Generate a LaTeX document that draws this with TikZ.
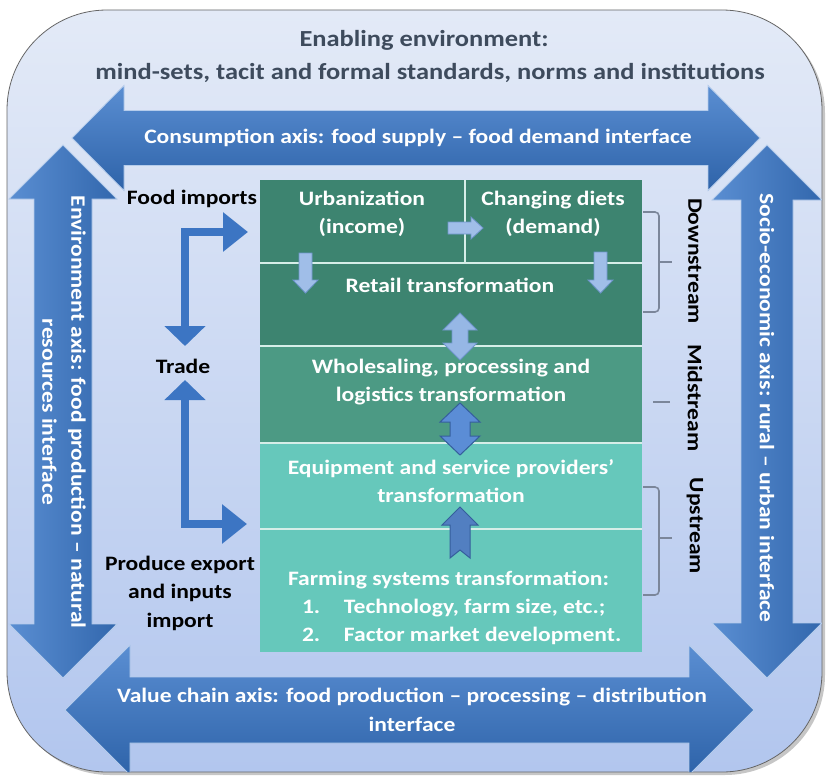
\documentclass[tikz,border=0pt]{standalone}
\usepackage{fontspec}
\setmainfont{Carlito}[FakeStretch=1.15]
\usetikzlibrary{arrows.meta}
\definecolor{bgtop}{HTML}{E3EAF7}
\definecolor{bgbot}{HTML}{B2C6EE}
\definecolor{axlight}{HTML}{5A8ED2}
\definecolor{axdark}{HTML}{2E63A9}
\definecolor{downc}{HTML}{3D8470}
\definecolor{midc}{HTML}{4C9A84}
\definecolor{upc}{HTML}{66C8BB}
\definecolor{titlec}{HTML}{3E4B5D}
\definecolor{brkc}{HTML}{7B869A}
\definecolor{lblue}{HTML}{A0BEE8}
\definecolor{lblueb}{HTML}{6F95CC}
\definecolor{mblue}{HTML}{5B8DD6}
\definecolor{mblueb}{HTML}{355E9C}
\definecolor{tradec}{HTML}{3C75C3}
\definecolor{divc}{HTML}{D6EEE8}
\begin{document}
\begin{tikzpicture}[x=1pt,y=-1pt,
  every node/.style={inner sep=0pt,outer sep=0pt},
  titletxt/.style={text=titlec,font=\fontsize{23}{32}\selectfont\bfseries,align=center},
  axistxt/.style={text=white,font=\fontsize{20.5}{29}\selectfont\bfseries,align=center},
  boxtxt/.style={text=white,font=\fontsize{20.5}{28}\selectfont\bfseries,align=center},
  sidetxt/.style={text=black,font=\fontsize{20.5}{28.5}\selectfont\bfseries,align=center},
  streamtxt/.style={text=black,font=\fontsize{20.5}{28}\selectfont\bfseries,rotate=-90},
  axisshape/.style={draw=white!55!axlight,line width=0.8pt},
  smallarrow/.style={fill=lblue,draw=lblueb,line width=0.8pt,line join=miter},
  midarrow/.style={fill=mblue,draw=mblueb,line width=1pt,line join=miter},
  brk/.style={draw=brkc,line width=1.6pt,rounded corners=4pt},
  divline/.style={draw=divc,line width=1.6pt},
  tradearrow/.style={draw=tradec,line width=8pt,line join=miter,
    {Triangle[width=40pt,length=20pt]}-{Triangle[width=38pt,length=25pt]}}
]
\useasboundingbox (0,0) rectangle (827,776);
% outer rounded panel with shadow
\fill[gray!45,rounded corners=100pt] (10,13) rectangle (825,775);
\shade[top color=bgtop,bottom color=bgbot,rounded corners=100pt] (7,10) rectangle (822,772);
\draw[gray!80!black,line width=0.8pt,rounded corners=100pt] (7,10) rectangle (822,772);

\begin{scope}
\clip[rounded corners=100pt] (7,10) rectangle (822,772);
% top arrow: consumption axis
\shade[top color=axlight,bottom color=axdark]
  (72,138) -- (124,85.5) -- (124,110.5) -- (708,110.5) -- (708,85.5) -- (760,138)
  -- (708,190.5) -- (708,165.5) -- (124,165.5) -- (124,190.5) -- cycle;
\draw[axisshape]
  (72,138) -- (124,85.5) -- (124,110.5) -- (708,110.5) -- (708,85.5) -- (760,138)
  -- (708,190.5) -- (708,165.5) -- (124,165.5) -- (124,190.5) -- cycle;
% left arrow: environment axis
\shade[left color=axlight,right color=axdark!90!axlight]
  (63,145) -- (117,199) -- (92,199) -- (92,624) -- (117,624) -- (63,678)
  -- (9,624) -- (34,624) -- (34,199) -- (9,199) -- cycle;
\draw[axisshape]
  (63,145) -- (117,199) -- (92,199) -- (92,624) -- (117,624) -- (63,678)
  -- (9,624) -- (34,624) -- (34,199) -- (9,199) -- cycle;
% right arrow: socio-economic axis
\shade[left color=axlight,right color=axdark!90!axlight]
  (767,145) -- (822,200) -- (793,200) -- (793,623) -- (822,623) -- (767,678)
  -- (712,623) -- (741,623) -- (741,200) -- (712,200) -- cycle;
\draw[axisshape]
  (767,145) -- (822,200) -- (793,200) -- (793,623) -- (822,623) -- (767,678)
  -- (712,623) -- (741,623) -- (741,200) -- (712,200) -- cycle;
% bottom arrow: value chain axis
\shade[top color=axlight,bottom color=axdark]
  (65,710) -- (130,645) -- (130,677) -- (689,677) -- (689,645) -- (754,710)
  -- (689,775) -- (689,743) -- (130,743) -- (130,775) -- cycle;
\draw[axisshape]
  (65,710) -- (130,645) -- (130,677) -- (689,677) -- (689,645) -- (754,710)
  -- (689,775) -- (689,743) -- (130,743) -- (130,775) -- cycle;
\end{scope}

% titles
\node[titletxt] (title1) at (424,40) {Enabling environment:};
\node[titletxt] (title2) at (430,73) {mind-sets, tacit and formal standards, norms and institutions};

% axis labels
\node[axistxt] (consum) at (418,138) {Consumption axis: food supply -- food demand interface};
\node[axistxt] (valuec) at (412,710) {Value chain axis: food production -- processing -- distribution\\interface};
\node[axistxt,rotate=-90] (envir) at (64,412) {Environment axis: food production -- natural\\resources interface};
\node[axistxt,rotate=-90] (socio) at (767,408) {Socio-economic axis: rural -- urban interface};

% central stack
\fill[downc] (260,180) rectangle (642,346);
\fill[midc] (260,346) rectangle (642,443);
\fill[upc] (260,443) rectangle (642,652);
\draw[divline] (260,263) -- (642,263);
\draw[divline] (465,180) -- (465,263);
\draw[divline] (260,346) -- (642,346);
\draw[divline] (260,443) -- (642,443);
\draw[divline] (260,529) -- (642,529);

\node[boxtxt] (urban) at (362,214) {Urbanization\\(income)};
\node[boxtxt] (diets) at (553,214) {Changing diets\\(demand)};
\node[boxtxt] (retail) at (450,285) {Retail transformation};
\node[boxtxt] (whole) at (451,382) {Wholesaling, processing and\\logistics transformation};
\node[boxtxt] (equip) at (451,481) {Equipment and service providers'\\transformation};
\node[boxtxt,align=left,anchor=west] (farm) at (288,608) {Farming systems transformation:\\
  \hspace*{14pt}\makebox[42pt][l]{1.}Technology, farm size, etc.;\\
  \hspace*{14pt}\makebox[42pt][l]{2.}Factor market development.};

% small arrows inside the stack
\draw[smallarrow] (448,222) -- (471,222) -- (471,217) -- (483,228) -- (471,239) -- (471,234) -- (448,234) -- cycle;
\draw[smallarrow] (299,253) -- (312,253) -- (312,280) -- (318,280) -- (305.5,293) -- (293,280) -- (299,280) -- cycle;
\draw[smallarrow] (594,252) -- (607,252) -- (607,280) -- (613,280) -- (600.5,293) -- (588,280) -- (594,280) -- cycle;
\draw[smallarrow,fill=lblue!85!mblue] (460,313) -- (477,330) -- (468,330) -- (468,343) -- (477,343) -- (460,360)
  -- (443,343) -- (452,343) -- (452,330) -- (443,330) -- cycle;
\draw[midarrow] (460,403) -- (480,422) -- (470,422) -- (470,436) -- (480,436) -- (460,455)
  -- (440,436) -- (450,436) -- (450,422) -- (440,422) -- cycle;
\draw[midarrow,fill=mblue!90!black] (460,507) -- (478,525) -- (470,525) -- (470,558) -- (460,550)
  -- (450,558) -- (450,525) -- (442,525) -- cycle;

% brackets and stream labels
\draw[brk] (643,212) -- (659,212) -- (659,312) -- (643,312);
\draw[brk] (659,262) -- (672,262);
\draw[brk] (653,402) -- (670,402);
\draw[brk] (643,487) -- (659,487) -- (659,595) -- (643,595);
\draw[brk] (659,538) -- (672,538);
\node[streamtxt] (downs) at (695,261) {Downstream};
\node[streamtxt] (mids) at (695,398) {Midstream};
\node[streamtxt] (ups) at (695,526) {Upstream};

% trade side
\node[sidetxt] (fimp) at (192,199) {Food imports};
\node[sidetxt] (trade) at (183,366) {Trade};
\node[sidetxt] (pexp) at (180,593) {Produce export\\and inputs\\import};
\coordinate (tdown) at (185,346);
\coordinate (tupper) at (185,232);
\coordinate (tin1) at (248,232);
\coordinate (tup) at (185,380);
\coordinate (tlower) at (185,524);
\coordinate (tin2) at (247,524);
\draw[tradearrow] (tdown) -- (tupper) -- (tin1);
\draw[tradearrow] (tup) -- (tlower) -- (tin2);
\end{tikzpicture}
\end{document}
